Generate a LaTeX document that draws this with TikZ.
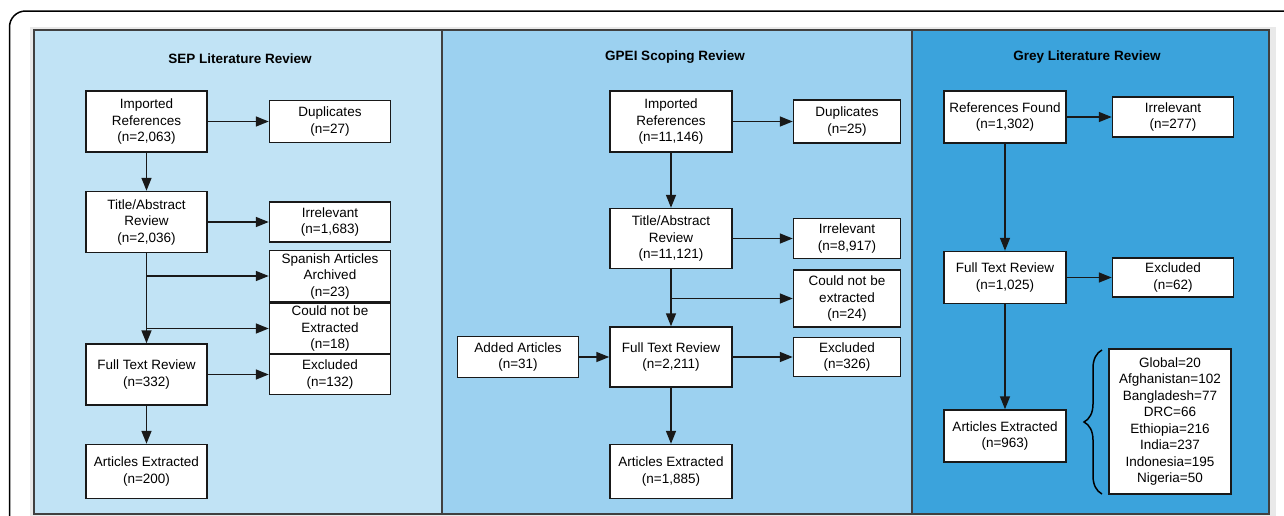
\documentclass[tikz,border=0pt]{standalone}
\usepackage{fontspec}
\setmainfont{Liberation Sans}
\usetikzlibrary{positioning,arrows.meta,decorations.pathreplacing}
\definecolor{seppanel}{HTML}{C1E3F5}
\definecolor{gpeipanel}{HTML}{9CD1F0}
\definecolor{greypanel}{HTML}{3BA3DC}
\definecolor{margingrey}{HTML}{E9E9E9}
\begin{document}
\begin{tikzpicture}[x=1pt,y=-1pt,node distance=61pt,font=\fontsize{13.5}{16.5}\selectfont]
	\tikzstyle{box}=[draw=black!90,line width=1.5pt,fill=white,align=center,inner sep=1pt,minimum width=121pt]
	\tikzstyle{arr}=[-{Triangle[length=13pt,width=10pt]},line width=1.6pt,draw=black!90]
	\tikzstyle{paneltitle}=[font=\fontsize{13.5}{16.5}\selectfont\bfseries]
	\clip (0,0) rectangle (1284,515);
	\useasboundingbox (0,0) rectangle (1284,515);
	% frame and panels
	\draw[line width=1.5pt,rounded corners=16pt] (1320,11) -- (9.5,11) -- (9.5,540);
	\fill[margingrey] (30,27) rectangle (1276,540);
	\draw[line width=1.3pt,draw=black!75,fill=seppanel] (34,30) rectangle (442,514);
	\draw[line width=1.3pt,draw=black!75,fill=gpeipanel] (442,30) rectangle (912,514);
	\draw[line width=1.3pt,draw=black!75,fill=greypanel] (912,30) rectangle (1269,514);
	\node[paneltitle] (t1) at (240,59) {SEP Literature Review};
	\node[paneltitle] (t2) at (675,57) {GPEI Scoping Review};
	\node[paneltitle] (t3) at (1087,57) {Grey Literature Review};
	% SEP literature review
		\node[box,minimum height=61pt] (ir1) at (146.5,121.5) {Imported\\References\\(n=2,063)};
		\node[box,minimum height=42pt] (dup1) [right=of ir1] {Duplicates\\(n=27)};
		\node[box,minimum height=61pt] (ta1) [below=38pt of ir1] {Title/Abstract\\Review\\(n=2,036)};
		\node[box,minimum height=40pt] (irr1) [right=of ta1] {Irrelevant\\(n=1,683)};
		\node[box,minimum height=51pt] (spa1) [below=7pt of irr1] {Spanish Articles\\Archived\\(n=23)};
		\node[box,minimum height=51pt] (cnb1) [below=0pt of spa1] {Could not be\\Extracted\\(n=18)};
		\node[box,minimum height=61pt] (ft1) [below=90pt of ta1] {Full Text Review\\(n=332)};
		\node[box,minimum height=40pt] (exc1) [right=of ft1] {Excluded\\(n=132)};
		\node[box,minimum height=54pt] (ae1) [below=38pt of ft1] {Articles Extracted\\(n=200)};
			\draw[arr] (ir1) -- (dup1);
			\draw[arr] (ir1) -- (ta1);
			\draw[arr] (ta1) -- (irr1);
			\draw[arr] (ta1) -- (ft1);
			\draw[arr] (ta1.south |- spa1.west) -- (spa1.west);
			\draw[arr] (ta1.south |- cnb1.west) -- (cnb1.west);
			\draw[arr] (ft1) -- (exc1);
			\draw[arr] (ft1) -- (ae1);
	% GPEI scoping review
		\node[box,minimum width=122pt,minimum height=61pt] (ir2) at (671,121.5) {Imported\\References\\(n=11,146)};
		\node[box,minimum width=107pt,minimum height=43pt] (dup2) [right=60pt of ir2] {Duplicates\\(n=25)};
		\node[box,minimum width=122pt,minimum height=60pt] (ta2) [below=55pt of ir2] {Title/Abstract\\Review\\(n=11,121)};
		\node[box,minimum width=107pt,minimum height=40pt] (irr2) [right=60pt of ta2] {Irrelevant\\(n=8,917)};
		\node[box,minimum width=107pt,minimum height=57pt] (cnb2) [below=10pt of irr2] {Could not be\\extracted\\(n=24)};
		\node[box,minimum width=122pt,minimum height=60pt] (ft2) [below=57pt of ta2] {Full Text Review\\(n=2,211)};
		\node[box,minimum height=41pt] (add2) [left=30pt of ft2] {Added Articles\\(n=31)};
		\node[box,minimum width=107pt,minimum height=39pt] (exc2) [right=60pt of ft2] {Excluded\\(n=326)};
		\node[box,minimum width=122pt,minimum height=54pt] (ae2) [below=56pt of ft2] {Articles Extracted\\(n=1,885)};
			\draw[arr] (ir2) -- (dup2);
			\draw[arr] (ir2) -- (ta2);
			\draw[arr] (ta2) -- (irr2);
			\draw[arr] (ta2) -- (ft2);
			\draw[arr] (ta2.south |- cnb2.west) -- (cnb2.west);
			\draw[arr] (add2) -- (ft2);
			\draw[arr] (ft2) -- (exc2);
			\draw[arr] (ft2) -- (ae2);
	% grey literature review
		\node[box,minimum width=122pt,minimum height=52pt] (rf3) at (1005,117) {References Found\\(n=1,302)};
		\node[box,minimum height=40pt] (irr3) [right=45pt of rf3] {Irrelevant\\(n=277)};
		\node[box,minimum width=122pt,minimum height=52pt] (ft3) [below=107pt of rf3] {Full Text Review\\(n=1,025)};
		\node[box,minimum height=39pt] (exc3) [right=45pt of ft3] {Excluded\\(n=62)};
		\node[box,minimum width=122pt,minimum height=52pt] (ae3) [below=105pt of ft3] {Articles Extracted\\(n=963)};
		\node[box,minimum width=122pt,minimum height=145pt] (cty3) at (1170,421.5) {Global=20\\Afghanistan=102\\Bangladesh=77\\DRC=66\\Ethiopia=216\\India=237\\Indonesia=195\\Nigeria=50};
		\coordinate (brtop) at (1102,350);
		\coordinate (brbot) at (1102,494);
			\draw[arr] (rf3) -- (irr3);
			\draw[arr] (rf3) -- (ft3);
			\draw[arr] (ft3) -- (exc3);
			\draw[arr] (ft3) -- (ae3);
			\draw[line width=1.5pt,decorate,decoration={brace,amplitude=18pt}] (brbot) -- (brtop);
\end{tikzpicture}
\end{document}
